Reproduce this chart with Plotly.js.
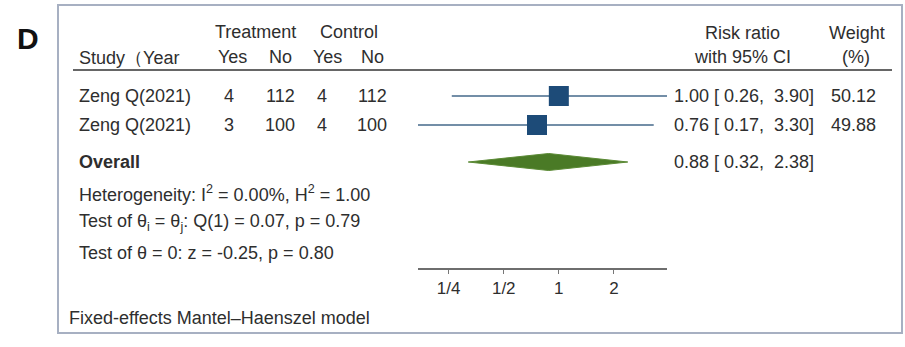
<!DOCTYPE html>
<html>
<head>
<meta charset="utf-8">
<script src="https://cdn.plot.ly/plotly-3.0.1.min.js"></script>
<style>html,body{margin:0;padding:0;background:#fff;}#chart{width:905px;height:347px;}</style>
</head>
<body>
<div id="chart"></div>
<script>
// ---- data ----
const studies = ["Zeng Q(2021)", "Zeng Q(2021)"];
const treatYes = [4, 3];
const treatNo = [112, 100];
const ctrlYes = [4, 4];
const ctrlNo = [112, 100];
const riskRatio = [1.00, 0.76];
const ciLow = [0.26, 0.17];
const ciHigh = [3.90, 3.30];
const weights = [50.12, 49.88];
const overallRR = 0.88;
const overallLow = 0.32;
const overallHigh = 2.38;
const tickVals = [0.25, 0.5, 1, 2];
const tickText = ["1/4", "1/2", "1", "2"];
const statLines = [
  "Heterogeneity: I<sup>2</sup> = 0.00%, H<sup>2</sup> = 1.00",
  "Test of θ<sub>i</sub> = θ<sub>j</sub>: Q(1) = 0.07, p = 0.79",
  "Test of θ = 0: z = -0.25, p = 0.80"
];
const modelNote = "Fixed-effects Mantel\u2013Haenszel model";

// ---- layout helpers ----
const W = 905, H = 347;
const AXIS_Y = 268;
const px = x => x / W;
const py = y => 1 - y / H;
const rowY = [96, 125];
const overallY = 162;
const statY = [193, 223, 253];
const FONT = "Liberation Sans, Arial, sans-serif";
const TXT = "#2e2e2e";
const FS = 18;

const ann = [];
function t(text, x, y, anchor, size, opts) {
  ann.push(Object.assign({
    text: text, xref: "paper", yref: "paper", x: px(x), y: py(y),
    xanchor: anchor || "left", yanchor: "middle", showarrow: false,
    font: {family: FONT, size: size || FS, color: TXT}
  }, opts || {}));
}

// panel letter
t("<b>D</b>", 15, 39, "left", 30, {font: {family: FONT, size: 30, color: "#111"}});

// headers
t("Treatment", 255, 32, "center");
t("Control", 349, 32, "center");
t("Study\uFF08Year", 77, 58, "left");
t("Yes", 232, 57, "center");
t("No", 280, 57, "center");
t("Yes", 327, 57, "center");
t("No", 372, 57, "center");
t("Risk ratio", 742, 33, "center");
t("with 95% CI", 742, 57, "center");
t("Weight", 857, 33, "center");
t("(%)", 856, 57, "center");

const cols = [[treatYes, 229], [treatNo, 280], [ctrlYes, 322], [ctrlNo, 372]];
studies.forEach((s, i) => {
  t(s, 77, rowY[i], "left");
  cols.forEach(c => t(String(c[0][i]), c[1], rowY[i], "center"));
  t(riskRatio[i].toFixed(2) + " [ " + ciLow[i].toFixed(2) + ",  " + ciHigh[i].toFixed(2) + "]", 672, rowY[i], "left");
  t(weights[i].toFixed(2), 853, rowY[i], "center");
});
t("<b>Overall</b>", 77, overallY, "left");
t(overallRR.toFixed(2) + " [ " + overallLow.toFixed(2) + ",  " + overallHigh.toFixed(2) + "]", 672, overallY, "left");
statLines.forEach((s, i) => t(s, 77, statY[i], "left"));
t(modelNote, 67, 318, "left");

const traces = [
  {
    type: "scatter", mode: "markers",
    x: riskRatio, y: rowY,
    marker: {symbol: "square", size: 20, color: "#1d4b78", line: {width: 0}},
    error_x: {type: "data", symmetric: false,
      array: riskRatio.map((r, i) => ciHigh[i] - r),
      arrayminus: riskRatio.map((r, i) => r - ciLow[i]),
      width: 0, thickness: 1.3, color: "#45698a"},
    hoverinfo: "skip", cliponaxis: false
  },
  {
    type: "scatter", mode: "lines", fill: "toself",
    x: [overallLow, overallRR, overallHigh, overallRR, overallLow],
    y: [overallY, overallY - 8.5, overallY, overallY + 8.5, overallY],
    fillcolor: "#4a7a26", line: {color: "#5b8a35", width: 1},
    hoverinfo: "skip"
  }
];

const layout = {
  width: W, height: H,
  margin: {l: 0, r: 0, t: 0, b: 0},
  paper_bgcolor: "#ffffff", plot_bgcolor: "rgba(0,0,0,0)",
  showlegend: false,
  font: {family: FONT, color: TXT},
  xaxis: {
    type: "log",
    domain: [418 / W, 667 / W],
    range: [Math.log10(0.17), Math.log10(3.9)],
    tickvals: tickVals, ticktext: tickText,
    ticks: "outside", ticklen: 4, tickwidth: 1, tickcolor: "#777",
    showline: true, linecolor: "#6e6e6e", linewidth: 1.5,
    showgrid: false, zeroline: false,
    tickfont: {family: FONT, size: 17, color: TXT},
    fixedrange: true
  },
  yaxis: {
    domain: [1 - AXIS_Y / H, 1],
    range: [AXIS_Y, 0],
    visible: false, fixedrange: true
  },
  shapes: [
    {type: "rect", xref: "paper", yref: "paper", x0: px(58), x1: px(902), y0: py(5), y1: py(333),
     line: {color: "#a7b0c2", width: 2}, fillcolor: "rgba(0,0,0,0)", layer: "below"},
    {type: "line", xref: "paper", yref: "paper", x0: px(73), x1: px(892), y0: py(70), y1: py(70),
     line: {color: "#333333", width: 1.5}}
  ],
  annotations: ann
};

Plotly.newPlot("chart", traces, layout, {displayModeBar: false, staticPlot: true});
</script>
</body>
</html>
